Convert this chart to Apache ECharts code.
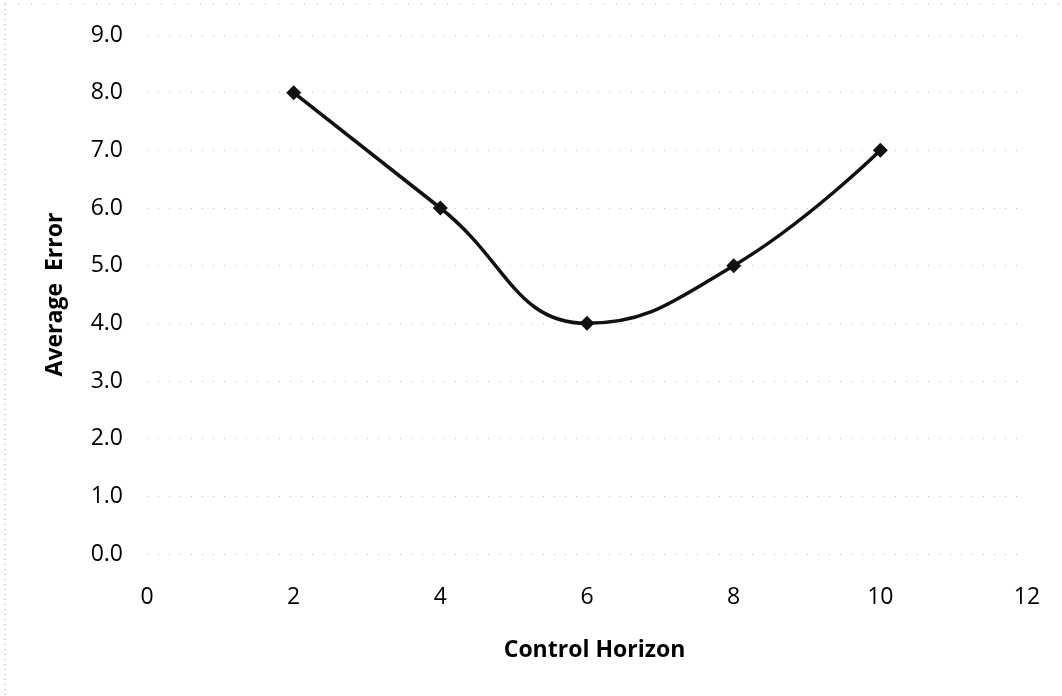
<!DOCTYPE html>
<html><head><meta charset="utf-8">
<script src="https://cdn.jsdelivr.net/npm/echarts@6/dist/echarts.min.js"></script>
<style>html,body{margin:0;padding:0;background:#fff}#c{width:1062px;height:696px}</style>
</head><body><div id="c"></div>
<script>
const xValues = [2, 4, 6, 8, 10];
const avgError = [8.0, 6.0, 4.0, 5.0, 7.0];
const xTitle = 'Control Horizon';
const yTitle = 'Average  Error';

const chart = echarts.init(document.getElementById('c'));
const font = '"Open Sans", "Noto Sans", sans-serif';
chart.setOption({
  animation: false,
  backgroundColor: '#fff',
  graphic: [
    {type: 'line', shape: {x1: 5, y1: 4, x2: 5, y2: 696}, style: {stroke: '#999', lineWidth: 1, lineDash: [1, 4]}},
    {type: 'line', shape: {x1: 5, y1: 4, x2: 1062, y2: 4}, style: {stroke: '#aaa', lineWidth: 1, lineDash: [1, 12]}}
  ],
  grid: {left: 147, right: 35, top: 35, bottom: 142},
  xAxis: {
    type: 'value', min: 0, max: 12, interval: 2,
    name: xTitle, nameLocation: 'middle', nameGap: 85,
    nameTextStyle: {fontFamily: font, fontSize: 23, fontWeight: 'bold', color: '#000', padding: [0, 0, 0, 15]},
    axisLine: {show: false}, axisTick: {show: false},
    axisLabel: {fontFamily: font, fontSize: 23, color: '#000', margin: 32},
    splitLine: {show: false}
  },
  yAxis: {
    type: 'value', min: 0, max: 9, interval: 1,
    name: yTitle, nameLocation: 'middle', nameGap: 80,
    nameTextStyle: {fontFamily: font, fontSize: 23, fontWeight: 'bold', color: '#000'},
    axisLine: {show: false}, axisTick: {show: false},
    axisLabel: {fontFamily: font, fontSize: 23, color: '#000', margin: 24, formatter: v => v.toFixed(1)},
    splitLine: {show: true, lineStyle: {color: '#bbb', width: 1, type: [1, 10]}}
  },
  series: [{
    type: 'line',
    data: xValues.map((x, i) => [x, avgError[i]]),
    smooth: 0.45,
    symbol: 'diamond', symbolSize: 15,
    lineStyle: {color: '#111', width: 3.5},
    itemStyle: {color: '#111'}
  }]
});
</script></body></html>
